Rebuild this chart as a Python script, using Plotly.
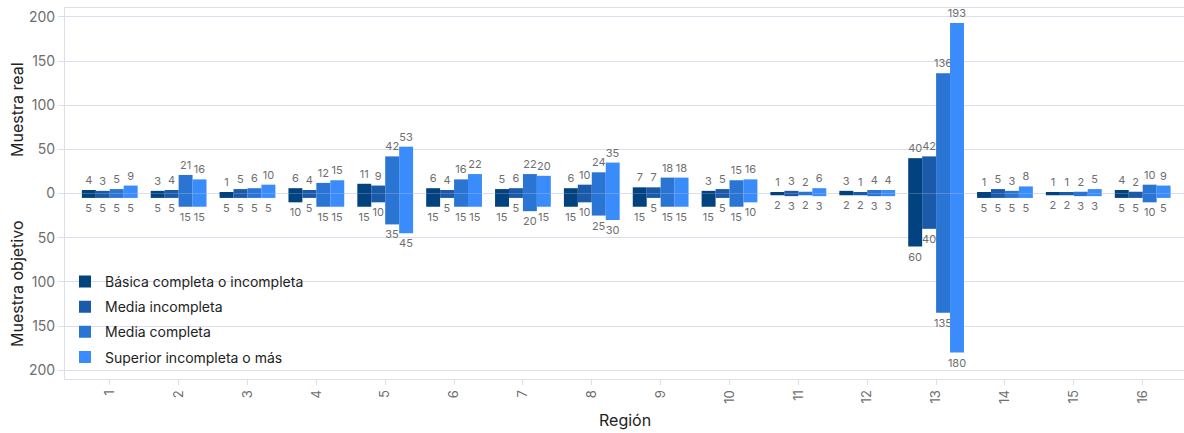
import plotly.graph_objects as go

regions = [str(i) for i in range(1, 17)]
series = ["Básica completa o incompleta", "Media incompleta", "Media completa", "Superior incompleta o más"]
colors = ["#02437f", "#1b5aa9", "#2a75d4", "#3b8cfb"]

# Muestra real (upwards)
real_basica = [4, 3, 1, 6, 11, 6, 5, 6, 7, 3, 1, 3, 40, 1, 1, 4]
real_media_inc = [3, 4, 5, 4, 9, 4, 6, 10, 7, 5, 3, 1, 42, 5, 1, 2]
real_media_comp = [5, 21, 6, 12, 42, 16, 22, 24, 18, 15, 2, 4, 136, 3, 2, 10]
real_superior = [9, 16, 10, 15, 53, 22, 20, 35, 18, 16, 6, 4, 193, 8, 5, 9]

# Muestra objetivo (downwards)
obj_basica = [5, 5, 5, 10, 15, 15, 15, 15, 15, 15, 2, 2, 60, 5, 2, 5]
obj_media_inc = [5, 5, 5, 5, 10, 5, 5, 10, 5, 5, 3, 2, 40, 5, 2, 5]
obj_media_comp = [5, 15, 5, 15, 35, 15, 20, 25, 15, 15, 2, 3, 135, 5, 3, 10]
obj_superior = [5, 15, 5, 15, 45, 15, 15, 30, 15, 10, 3, 3, 180, 5, 3, 5]

y_tickvals = [-200, -150, -100, -50, 0, 50, 100, 150, 200]
y_ticktext = ["200", "150", "100", "50", "0", "50", "100", "150", "200"]

real = [real_basica, real_media_inc, real_media_comp, real_superior]
obj = [obj_basica, obj_media_inc, obj_media_comp, obj_superior]

FONT = "Inter, Roboto, sans-serif"
LINE = "#dcdeec"
GREY = "#6e6e6e"

fig = go.Figure()
for i, name in enumerate(series):
    fig.add_trace(go.Bar(
        x=regions, y=real[i], name=name, marker_color=colors[i], marker_line_width=0,
        offsetgroup=str(i), legendgroup=str(i),
        text=[str(v) for v in real[i]], textposition="outside",
        textfont=dict(size=11, color=GREY, family=FONT),
        constraintext="none", cliponaxis=False, hoverinfo="skip",
    ))
    fig.add_trace(go.Bar(
        x=regions, y=[-v for v in obj[i]], name=name, marker_color=colors[i], marker_line_width=0,
        offsetgroup=str(i), legendgroup=str(i), showlegend=False,
        text=[str(v) for v in obj[i]], textposition="outside",
        textfont=dict(size=11, color=GREY, family=FONT),
        constraintext="none", cliponaxis=False, hoverinfo="skip",
    ))

fig.update_layout(
    width=1184, height=433,
    margin=dict(l=65, r=0, t=8, b=54, autoexpand=False),
    barmode="relative", bargap=0.19, bargroupgap=0,
    plot_bgcolor="white", paper_bgcolor="white",
    font=dict(family=FONT, color="#222222"),
    showlegend=True,
    legend=dict(
        x=0.0, y=0.305, xanchor="left", yanchor="top",
        bgcolor="rgba(0,0,0,0)", font=dict(size=14, color="#222222", family=FONT),
        traceorder="grouped", tracegroupgap=4,
    ),
    xaxis=dict(
        type="category", range=[-0.65, 15.6], automargin=False,
        showline=True, linecolor=LINE, linewidth=1, mirror=True,
        ticks="outside", ticklen=5, tickcolor=LINE, tickangle=-90,
        tickfont=dict(size=13, color=GREY, family=FONT),
        showgrid=False,
    ),
    yaxis=dict(
        range=[-210, 210], automargin=False,
        tickvals=y_tickvals, ticktext=y_ticktext,
        showline=True, linecolor=LINE, linewidth=1, mirror=True,
        ticks="outside", ticklen=6, tickcolor=LINE,
        tickfont=dict(size=14, color=GREY, family=FONT),
        showgrid=True, gridcolor=LINE, gridwidth=1,
        zeroline=True, zerolinecolor=LINE, zerolinewidth=1,
    ),
    annotations=[
        dict(text="Región", xref="paper", yref="paper", x=0.5, y=-0.11,
             xanchor="center", yanchor="middle", showarrow=False,
             font=dict(size=16, color="#222222", family=FONT)),
        dict(text="Muestra real", xref="paper", yref="y", x=-0.0435, y=95,
             xanchor="center", yanchor="middle", showarrow=False, textangle=-90,
             font=dict(size=16, color="#222222", family=FONT)),
        dict(text="Muestra objetivo", xref="paper", yref="y", x=-0.0435, y=-102,
             xanchor="center", yanchor="middle", showarrow=False, textangle=-90,
             font=dict(size=16, color="#222222", family=FONT)),
    ],
)

fig.write_html(
    "out.html",
    config={"displayModeBar": False},
    post_script="document.body.style.margin='0';document.body.style.overflow='hidden';",
)
